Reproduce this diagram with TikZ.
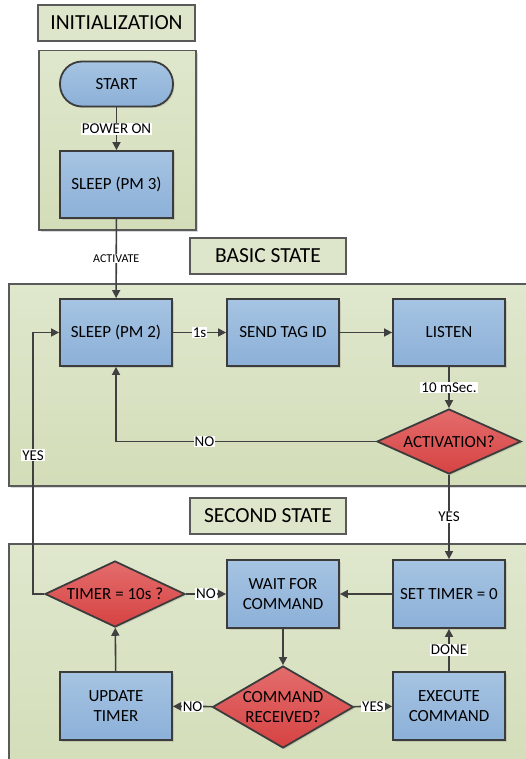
\documentclass[tikz,border=0pt]{standalone}
\usepackage{fontspec}
\setmainfont{Carlito}
\usetikzlibrary{shapes.geometric,arrows.meta,shadows}
\definecolor{linec}{HTML}{404040}
\definecolor{boxb}{HTML}{3C3C3C}
\definecolor{grpb}{HTML}{5A5A5A}
\definecolor{grpT}{HTML}{DFE7CD}
\definecolor{grpB}{HTML}{D3DDB8}
\definecolor{titlec}{HTML}{DDE5CA}
\definecolor{blueT}{HTML}{A6C4E2}
\definecolor{blueB}{HTML}{8CB0D8}
\definecolor{redT}{HTML}{E46C6C}
\definecolor{redB}{HTML}{D64343}
\newcommand\myboxfont{\fontsize{17}{20.5}\selectfont}
\newcommand\mytitlefont{\fontsize{21.5}{24}\selectfont}
\newcommand\mylblfont{\fontsize{15}{17}\selectfont}
\newcommand\mysmallfont{\fontsize{12}{14}\selectfont}
\tikzset{
  arrowline/.style={draw=linec, line width=1.6pt, -{Triangle[length=8pt,width=8pt]}},
  plainline/.style={draw=linec, line width=1.6pt},
  stepbox/.style={rectangle, draw=boxb, line width=1.8pt, top color=blueT, bottom color=blueB,
    minimum width=112pt, minimum height=67pt, align=center, font=\myboxfont, inner sep=0pt,
    drop shadow={shadow xshift=1.5pt, shadow yshift=-1.5pt, opacity=0.25}},
  termbox/.style={stepbox, rounded corners=22pt, minimum width=113pt, minimum height=45pt},
  decbox/.style={diamond, draw=boxb, line width=1.8pt, top color=redT, bottom color=redB,
    align=center, font=\myboxfont, inner sep=0pt,
    drop shadow={shadow xshift=1.5pt, shadow yshift=-1.5pt, opacity=0.25}},
  lbl/.style={fill=white, inner sep=1pt, font=\mylblfont, text=black},
  smalllbl/.style={fill=white, inner sep=1pt, font=\mysmallfont, text=black},
  groupbox/.style={rectangle, draw=grpb, line width=1.5pt, top color=grpT, bottom color=grpB,
    anchor=north west, inner sep=0pt,
    drop shadow={shadow xshift=2pt, shadow yshift=-2pt, opacity=0.3}},
  titlebox/.style={rectangle, draw=grpb, line width=1.5pt, fill=titlec, minimum width=157pt,
    minimum height=36pt, font=\mytitlefont, inner sep=0pt}
}
\begin{document}
\begin{tikzpicture}[x=1pt,y=-1pt]
\useasboundingbox (0,0) rectangle (526,759);
\clip (0,0) rectangle (526,759);
\fill[white] (0,0) rectangle (526,759);

% groups
\node[groupbox, minimum width=157pt, minimum height=179pt] (initgrp) at (38,50) {};
\node[groupbox, minimum width=540pt, minimum height=202pt] (basicgrp) at (8,283) {};
\node[groupbox, minimum width=540pt, minimum height=240pt] (secondgrp) at (8,543) {};

% titles
\node[titlebox] (tinit) at (116.5,23) {INITIALIZATION};
\node[titlebox, minimum width=156pt] (tbasic) at (268,256) {BASIC STATE};
\node[titlebox, minimum width=156pt] (tsecond) at (268,516) {SECOND STATE};

% nodes
\node[termbox] (start) at (116.5,84) {START};
\node[stepbox, minimum width=113pt] (sleep3) at (116.5,184.5) {SLEEP (PM 3)};
\node[stepbox] (sleep2) at (116,332.5) {SLEEP (PM 2)};
\node[stepbox] (send) at (283,332.5) {SEND TAG ID};
\node[stepbox] (listen) at (449,332.5) {LISTEN};
\node[decbox, aspect=2.2, minimum width=144pt, minimum height=65pt] (act) at (449,441.5) {ACTIVATION?};
\node[stepbox, minimum height=68pt] (settimer) at (449,594) {SET TIMER = 0};
\node[stepbox, minimum height=68pt] (wait) at (283,594) {WAIT FOR\\COMMAND};
\node[decbox, aspect=2.1, minimum width=140pt, minimum height=66pt] (timer) at (115,594) {TIMER = 10s ?};
\node[stepbox, minimum height=68pt] (update) at (116,706) {UPDATE\\TIMER};
\node[decbox, aspect=1.72, minimum width=141pt, minimum height=82pt] (cmd) at (283,707) {COMMAND\\RECEIVED?};
\node[stepbox, minimum height=68pt] (exec) at (449,706) {EXECUTE\\COMMAND};

\coordinate (loopbot) at (33,594);
\coordinate (looptop) at (33,332.5);

% connectors
\draw[arrowline] (start) -- node[lbl] {POWER ON} (sleep3);
\draw[arrowline] (sleep3) -- node[smalllbl] {ACTIVATE} (sleep2);
\draw[arrowline] (sleep2) -- node[lbl] {1s} (send);
\draw[arrowline] (send) -- (listen);
\draw[arrowline] (listen) -- node[lbl] {10 mSec.} (act);
\draw[arrowline] (act.west) -| node[lbl, pos=0.33] {NO} (sleep2.south);
\draw[arrowline] (act.south) -- node[lbl] {YES} (settimer.north);
\draw[arrowline] (settimer) -- (wait);
\draw[arrowline] (wait) -- (cmd);
\draw[arrowline] (cmd) -- node[lbl] {NO} (update);
\draw[arrowline] (cmd) -- node[lbl] {YES} (exec);
\draw[arrowline] (exec) -- node[lbl] {DONE} (settimer);
\draw[arrowline] (update) -- (timer);
\draw[arrowline] (timer) -- node[lbl] {NO} (wait);
\draw[arrowline] (timer.west) -- (loopbot) -- node[lbl, pos=0.53] {YES} (looptop) -- (sleep2.west);
\end{tikzpicture}
\end{document}
